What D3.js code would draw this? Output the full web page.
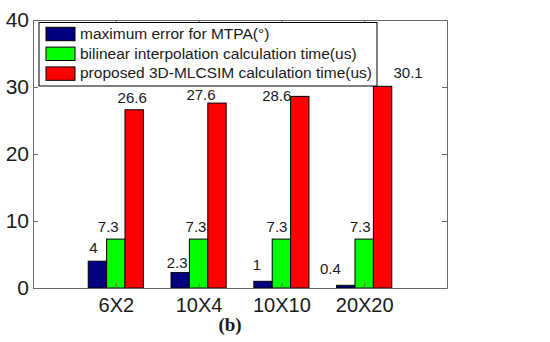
<!DOCTYPE html>
<html>
<head>
<meta charset="utf-8">
<script src="https://cdn.jsdelivr.net/npm/d3@7"></script>
<style>
  body { margin: 0; background: #fff; }
  text { font-family: "Liberation Sans", Arial, sans-serif; fill: #1a1a1a; }
  .axis path, .axis line { stroke: #666; }
</style>
</head>
<body>
<div id="chart"></div>
<script>
// data
var categories = ["6X2", "10X4", "10X10", "20X20"];
var seriesNames = [
    "maximum error for MTPA(\u00b0)",
    "bilinear interpolation calculation time(us)",
    "proposed 3D-MLCSIM calculation time(us)"
];
var maxError   = [4, 2.3, 1, 0.4];
var bilinearT  = [7.3, 7.3, 7.3, 7.3];
var proposedT  = [26.6, 27.6, 28.6, 30.1];
var yTicks     = [0, 10, 20, 30, 40];

var series = [maxError, bilinearT, proposedT];
var colors = ["#000080", "#00ff00", "#ff0000"];

// hand placed value labels in the original, nudges in px [dx, dy]
var labelNudge = [
    [[-4, -8.5], [-3, -4.6], [-6, -11], [-15.5, -11]],
    [[-7.5, -7.3], [-2.6, -7.3], [-4.4, -7.3], [-4, -7.3]],
    [[-2, -6.3], [-16, -3], [-23, 4.5], [25.5, -8.3]]
];

var W = 550, H = 342;
var margin = {top: 20, right: 103, bottom: 54, left: 33};
var width = W - margin.left - margin.right;
var height = H - margin.top - margin.bottom;

var svg = d3.select("#chart").append("svg")
    .attr("width", W)
    .attr("height", H);

var g = svg.append("g")
    .attr("transform", "translate(" + margin.left + "," + margin.top + ")");

var x = d3.scaleLinear().domain([0, categories.length + 1]).range([0, width]);
var y = d3.scaleLinear().domain([0, 40]).range([height, 0]);

var bw = x(0.222) - x(0); //bar width

// bars
series.forEach(function(vals, si){
    g.selectAll(".bar" + si)
        .data(vals)
        .enter().append("rect")
        .attr("class", "bar" + si)
        .attr("x", function(d, i){ return x(i + 1) + (si - 1) * bw - bw / 2; })
        .attr("y", function(d){ return y(d); })
        .attr("width", bw)
        .attr("height", function(d){ return height - y(d); })
        .attr("fill", colors[si])
        .attr("stroke", "#000")
        .attr("stroke-width", 1);
});

// value labels
series.forEach(function(vals, si){
    g.selectAll(".lab" + si)
        .data(vals)
        .enter().append("text")
        .attr("class", "lab" + si)
        .attr("text-anchor", "middle")
        .style("font-size", "15px")
        .attr("x", function(d, i){ return x(i + 1) + (si - 1) * bw + labelNudge[si][i][0]; })
        .attr("y", function(d, i){ return y(d) + labelNudge[si][i][1]; })
        .text(function(d){ return d; });
});

// axes, ticks point inward like matlab
var gl = g.append("g").attr("class", "axis")
    .call(d3.axisLeft(y).tickValues(yTicks).tickSize(-5).tickSizeOuter(0).tickPadding(4));
gl.selectAll("text").style("font-size", "21px");

g.append("g").attr("class", "axis")
    .attr("transform", "translate(" + width + ",0)")
    .call(d3.axisRight(y).tickValues(yTicks).tickSize(-5).tickSizeOuter(0).tickFormat(""));

g.append("g").attr("class", "axis")
    .call(d3.axisTop(x).tickValues([1, 2, 3, 4]).tickSize(-5).tickSizeOuter(0).tickFormat(""));

var gb = g.append("g").attr("class", "axis")
    .attr("transform", "translate(0," + height + ")")
    .call(d3.axisBottom(x).tickValues([1, 2, 3, 4]).tickSize(-5).tickSizeOuter(0)
        .tickFormat(function(d){ return categories[d - 1]; }));
gb.selectAll("text")
    .style("font-size", "20px")
    .attr("y", 23.5).attr("dy", 0);
gl.selectAll("text").attr("fill", "#1a1a1a");
gb.selectAll("text").attr("fill", "#1a1a1a");

// legend
var legend = svg.append("g").attr("transform", "translate(39,22.5)");
legend.append("rect")
    .attr("width", 338).attr("height", 63.5)
    .attr("fill", "#fff").attr("stroke", "#000");
var rows = legend.selectAll(".row")
    .data(seriesNames)
    .enter().append("g")
    .attr("transform", function(d, i){ return "translate(0," + (11.5 + i * 19.8) + ")"; });
rows.append("rect")
    .attr("x", 7).attr("y", -6.7)
    .attr("width", 29).attr("height", 13.4)
    .attr("fill", function(d, i){ return colors[i]; })
    .attr("stroke", "#000");
rows.append("text")
    .attr("x", 41).attr("y", 4.8)
    .style("font-size", "15.5px")
    .text(function(d){ return d; });

// caption
svg.append("text")
    .attr("x", 230).attr("y", 331)
    .attr("text-anchor", "middle")
    .style("font-family", "'Liberation Serif', 'Times New Roman', serif")
    .style("font-weight", "bold")
    .style("font-size", "19px")
    .text("(b)");
</script>
</body>
</html>
